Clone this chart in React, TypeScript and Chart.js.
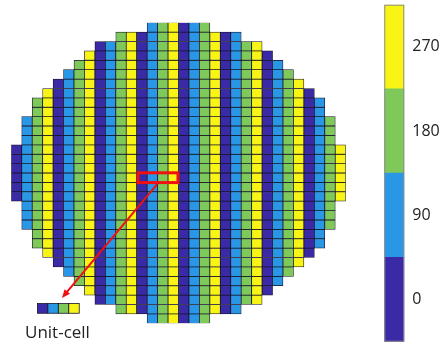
import React, { useEffect, useRef } from "react";
import { Chart, registerables } from "chart.js";

Chart.register(...registerables);

// ---- data ----
const columnLabels = ["0","1","2","3","4","5","6","7","8","9","10","11","12","13","14","15","16","17","18","19","20","21","22","23","24","25","26","27","28","29","30","31"];
const columnTopRow = [13,10,8,7,6,5,4,3,2,2,1,1,1,0,0,0,0,0,0,1,1,1,2,2,3,4,5,6,7,8,10,13];
const columnPhase = [0,90,180,270,0,90,180,270,0,90,180,270,0,90,180,270,0,90,180,270,0,90,180,270,0,90,180,270,0,90,180,270];
const rowCount = 32;
const phaseLevels = [0, 90, 180, 270];
const phaseColors = ["#3b2aa6", "#2a97e6", "#7fc95a", "#f8f516"];
const colorbarTicks = [0, 90, 180, 270];
const unitCellPhases = [0, 90, 180, 270];
const unitCellLabel = "Unit-cell";

// annotation anchors in grid units
const highlightCols = [12, 16];
const highlightRow = 16;
const unitCellStart = [2.5, 29.9];
const arrowFrom = [13.94, 17.2];
const arrowTo = [4.85, 29.3];
const labelAnchor = [1.31, 33.55];

const colorFor = (p: number) => phaseColors[phaseLevels.indexOf(p)];

export default function App() {
  const mainRef = useRef<HTMLCanvasElement>(null);
  const barRef = useRef<HTMLCanvasElement>(null);

  useEffect(() => {
    const datasets = [] as any[];
    for (let r = 0; r < rowCount; r++) {
      datasets.push({
        data: columnTopRow.map((t) => (r >= t && r <= rowCount - 1 - t ? [r, r + 1] : null)),
        backgroundColor: columnPhase.map(colorFor),
        borderColor: "#16142a",
        borderWidth: 0.75,
        borderSkipped: false,
        categoryPercentage: 1,
        barPercentage: 1,
      });
    }

    const annot = {
      id: "annot",
      afterDatasetsDraw(chart: any) {
        const { ctx } = chart;
        const xs = chart.scales.x;
        const ys = chart.scales.y;
        const gx = (g: number) => xs.getPixelForValue(g - 0.5);
        const gy = (g: number) => ys.getPixelForValue(g);
        ctx.save();
        // red highlight rectangle
        ctx.strokeStyle = "#f01010";
        ctx.lineWidth = 3;
        const rx0 = gx(highlightCols[0] + 0.12);
        const rx1 = gx(highlightCols[1] - 0.05);
        const ry0 = gy(highlightRow - 0.02);
        const ry1 = gy(highlightRow + 1.02);
        ctx.strokeRect(rx0, ry0, rx1 - rx0, ry1 - ry0);
        // arrow
        const ax0 = gx(arrowFrom[0]), ay0 = gy(arrowFrom[1]);
        const ax1 = gx(arrowTo[0]), ay1 = gy(arrowTo[1]);
        const ang = Math.atan2(ay1 - ay0, ax1 - ax0);
        const head = 9;
        ctx.lineWidth = 2;
        ctx.beginPath();
        ctx.moveTo(ax0, ay0);
        ctx.lineTo(ax1 - Math.cos(ang) * head * 0.8, ay1 - Math.sin(ang) * head * 0.8);
        ctx.stroke();
        ctx.fillStyle = "#f01010";
        ctx.beginPath();
        ctx.moveTo(ax1, ay1);
        ctx.lineTo(ax1 - head * Math.cos(ang - 0.4), ay1 - head * Math.sin(ang - 0.4));
        ctx.lineTo(ax1 - head * Math.cos(ang + 0.4), ay1 - head * Math.sin(ang + 0.4));
        ctx.closePath();
        ctx.fill();
        // unit cell
        unitCellPhases.forEach((p, i) => {
          const x0 = gx(unitCellStart[0] + i);
          const x1 = gx(unitCellStart[0] + i + 1);
          const y0 = gy(unitCellStart[1]);
          const y1 = gy(unitCellStart[1] + 1.03);
          ctx.fillStyle = colorFor(p);
          ctx.fillRect(x0, y0, x1 - x0, y1 - y0);
          ctx.strokeStyle = "#16142a";
          ctx.lineWidth = 0.8;
          ctx.strokeRect(x0, y0, x1 - x0, y1 - y0);
        });
        // label
        ctx.fillStyle = "#222";
        ctx.font = '17px "Open Sans"';
        ctx.textAlign = "left";
        ctx.textBaseline = "alphabetic";
        ctx.fillText(unitCellLabel, gx(labelAnchor[0]), gy(labelAnchor[1]));
        ctx.restore();
      },
    };

    const main = new Chart(mainRef.current!, {
      type: "bar",
      data: { labels: columnLabels, datasets },
      options: {
        responsive: false,
        animation: false,
        layout: { padding: { left: 11.3, top: 22.7, right: 100.3, bottom: 23.7 } },
        plugins: { legend: { display: false }, tooltip: { enabled: false } },
        scales: {
          x: { display: false, stacked: true },
          y: { display: false, min: 0, max: rowCount, reverse: true, stacked: false },
        },
      },
      plugins: [annot],
    });

    const bar = new Chart(barRef.current!, {
      type: "bar",
      data: {
        labels: ["phase"],
        datasets: colorbarTicks.map((t) => ({
          data: [[t - 45, t + 45]],
          backgroundColor: colorFor(t),
          borderWidth: 0,
          categoryPercentage: 1,
          barPercentage: 1,
        })) as any,
      },
      options: {
        responsive: false,
        animation: false,
        layout: { padding: { left: 24.3, top: 4.7, right: 5.7, bottom: 5.3 } },
        plugins: {
          legend: { display: false },
          tooltip: { enabled: false },
        },
        scales: {
          x: { display: false, stacked: true },
          y: {
            position: "right",
            min: -45,
            max: 315,
            stacked: false,
            afterFit: (s: any) => {
              s.width = 36;
              s.paddingTop = 0;
              s.paddingBottom = 0;
            },
            afterBuildTicks: (s: any) => { s.ticks = colorbarTicks.map((v) => ({ value: v })); },
            grid: { display: false, drawTicks: false },
            border: { display: false },
            ticks: { padding: 8, color: "#222", font: { family: "Open Sans", size: 16 } },
          },
        },
      },
      plugins: [
        {
          id: "frame",
          afterDatasetsDraw(chart: any) {
            const { ctx, chartArea: a } = chart;
            ctx.save();
            ctx.strokeStyle = "#8a8a8a";
            ctx.lineWidth = 1;
            ctx.strokeRect(a.left + 0.5, a.top + 0.5, a.right - a.left - 1, a.bottom - a.top - 1);
            ctx.restore();
          },
        },
      ],
    });

    return () => {
      main.destroy();
      bar.destroy();
    };
  }, []);

  return (
    <div style={{ position: "fixed", left: 0, top: 0, width: 446, height: 347, background: "#fff" }}>
      <canvas ref={mainRef} width={446} height={347} style={{ position: "absolute", left: 0, top: 0 }} />
      <canvas ref={barRef} width={86} height={347} style={{ position: "absolute", left: 360, top: 0 }} />
    </div>
  );
}
